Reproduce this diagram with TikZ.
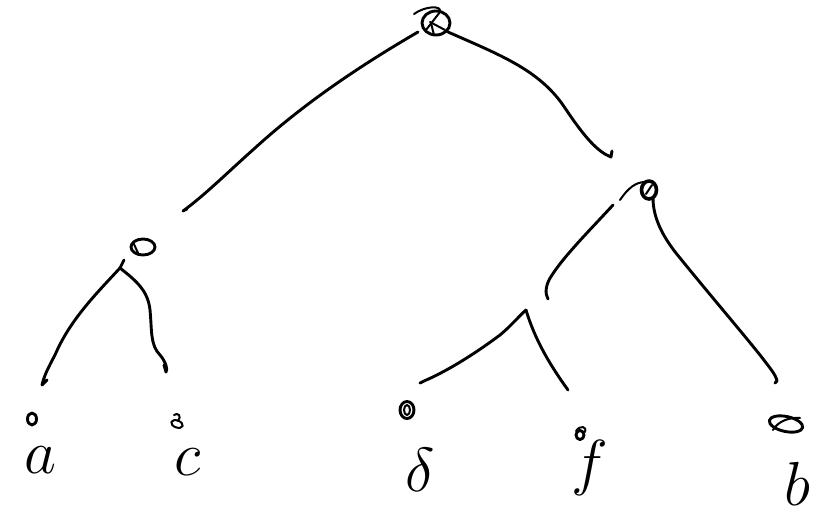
\documentclass[tikz,border=0pt]{standalone}
\begin{document}
\begin{tikzpicture}[x=1pt,y=-1pt,
  ink/.style={line width=2.9pt,line cap=round,line join=round,black},
  thin ink/.style={line width=2pt,line cap=round,line join=round,black},
  lbl/.style={inner sep=0pt,font=\Huge,scale=2.5}]
\useasboundingbox (0,0) rectangle (822,522);
% internal nodes
\coordinate (root) at (436,23);
\draw[ink] (root) ellipse (14 and 12);
\draw[thin ink] (414,14) .. controls (425,6) and (442,5) .. (440,12) -- (426,30);
\draw[thin ink] (430,22) -- (445,30);
\draw[thin ink] (431,23) -- (434,35);
\coordinate (L) at (143,247);
\draw[ink] (L) ellipse (12 and 8);
\draw[thin ink] (133,242) -- (138,253);
\coordinate (R) at (649,190);
\draw[ink,line width=3.6pt] (R) ellipse (7.5 and 9);
\draw[thin ink] (646,194) -- (652,185);
\draw[thin ink] (620,200) .. controls (628,188) and (636,182) .. (645,182);
% leaves
\coordinate (la) at (32,419);
\draw[ink] (la) ellipse (4.5 and 6);
\coordinate (lc) at (177,424);
\draw[thin ink,rotate around={-20:(lc)}] (lc) ellipse (6 and 3.5);
\draw[thin ink] (178,421) .. controls (182,416) and (178,412) .. (174,415);
\coordinate (lg) at (407,410);
\draw[ink] (lg) ellipse (7 and 8.5);
\draw[thin ink] (lg) ellipse (3 and 5);
\coordinate (lf) at (580,435);
\draw[ink] (lf) ellipse (4 and 4.5);
\draw[thin ink] (576,431) .. controls (580,425) and (587,426) .. (585,432);
\coordinate (lb) at (786,424);
\draw[ink,rotate around={-12:(lb)}] (lb) ellipse (17 and 7.5);
\draw[thin ink] (773,430) .. controls (778,421) and (790,417) .. (800,418);
% edges
\coordinate (r1) at (418,32);
\coordinate (r1e) at (183,211);
\draw[ink] (r1) .. controls (370,60) and (310,98) .. (255,148) .. controls (228,172) and (205,195) .. (r1e) -- (187,209);
\coordinate (r2) at (448,32);
\coordinate (r2e) at (611,157);
\draw[ink] (r2) .. controls (500,55) and (540,70) .. (565,108) .. controls (585,138) and (598,152) .. (r2e) -- (612,151);
\coordinate (j1) at (120,268);
\draw[ink] (124,260) -- (j1);
\coordinate (a1) at (42,385);
\draw[ink] (j1) .. controls (95,295) and (70,320) .. (55,355) .. controls (48,368) and (44,376) .. (a1) -- (47,380);
\coordinate (c1) at (166,372);
\draw[ink] (j1) .. controls (135,280) and (148,290) .. (150,310) .. controls (152,330) and (150,345) .. (160,355) .. controls (166,362) and (168,370) .. (c1) -- (164,365);
\coordinate (s1) at (613,205);
\coordinate (s1e) at (548,299);
\draw[ink] (s1) .. controls (590,230) and (565,255) .. (552,275) .. controls (545,285) and (545,294) .. (s1e);
\coordinate (j2) at (526,310);
\coordinate (g1) at (420,383);
\coordinate (f1) at (568,390);
\draw[ink] (g1) -- (424,381) .. controls (450,370) and (480,350) .. (500,335) .. controls (512,325) and (520,315) .. (j2);
\draw[ink] (j2) .. controls (535,340) and (550,365) .. (f1);
\coordinate (b1) at (777,381);
\draw[ink] (653,198) .. controls (653,220) and (665,240) .. (680,258) .. controls (710,295) and (740,330) .. (760,355) .. controls (770,368) and (776,375) .. (b1) -- (775,383);
% labels
\node[lbl] (ta) at (40,460) {$a$};
\node[lbl] (tc) at (188,462) {$c$};
\node[lbl] (tg) at (420,470) {$\delta$};
\node[lbl] (tf) at (590,468) {$f$};
\node[lbl] (tb) at (797,484) {$b$};
\end{tikzpicture}
\end{document}
